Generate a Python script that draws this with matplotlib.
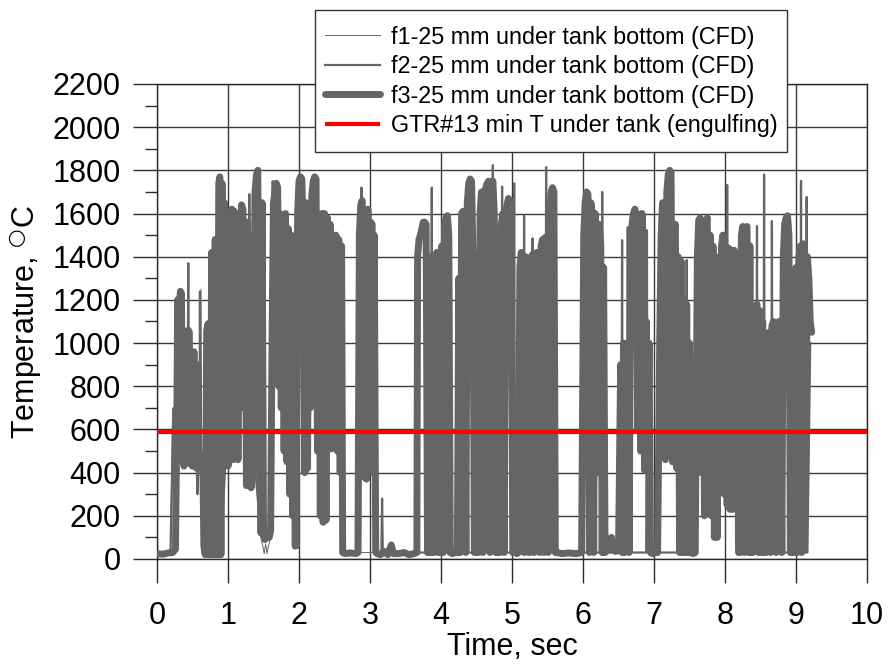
import matplotlib
matplotlib.use('Agg')
import matplotlib.pyplot as plt
from matplotlib.ticker import MultipleLocator
from matplotlib.patches import Rectangle

# ---------------- data ----------------
x_ticks = [0, 1, 2, 3, 4, 5, 6, 7, 8, 9, 10]
y_ticks = [0, 200, 400, 600, 800, 1000, 1200, 1400, 1600, 1800, 2000, 2200]

labels = ["f1-25 mm under tank bottom (CFD)",
          "f2-25 mm under tank bottom (CFD)",
          "f3-25 mm under tank bottom (CFD)",
          "GTR#13 min T under tank (engulfing)"]

gtr_min_T = 590
gtr_time = [0, 10]

# f3 (thick) : (time s, temperature C)
f3_pts = [
    (0.00, 25), (0.08, 22), (0.16, 28), (0.22, 30), (0.26, 45),
    (0.28, 650), (0.29, 1200), (0.31, 1150), (0.33, 1240), (0.345, 1230), (0.36, 460), (0.38, 430),
    (0.40, 450), (0.42, 1040), (0.44, 1060), (0.455, 1050), (0.47, 440), (0.49, 880), (0.50, 430),
    (0.52, 960), (0.54, 430), (0.56, 420), (0.575, 900), (0.59, 430), (0.61, 450), (0.63, 480), (0.645, 460),
    (0.66, 60), (0.68, 20), (0.70, 1060), (0.72, 1090), (0.735, 20), (0.75, 20), (0.77, 1420), (0.785, 500),
    (0.80, 20), (0.82, 1480), (0.835, 20), (0.85, 20), (0.87, 1740), (0.885, 1770), (0.90, 20), (0.915, 1740),
    (0.93, 700), (0.95, 1650), (0.965, 450), (0.98, 1600), (1.00, 430), (1.02, 1580), (1.04, 700),
    (1.055, 1620), (1.07, 460), (1.09, 1610), (1.105, 700), (1.12, 1550), (1.14, 460), (1.16, 1450),
    (1.175, 700), (1.19, 1640), (1.21, 1620), (1.225, 700), (1.24, 1500), (1.26, 340), (1.275, 1560),
    (1.29, 700), (1.31, 1500), (1.325, 330), (1.34, 1400), (1.36, 700), (1.38, 1700), (1.40, 1780),
    (1.42, 1800), (1.435, 400), (1.45, 1650), (1.465, 120), (1.48, 1650),
    (1.50, 150), (1.52, 90), (1.55, 110), (1.58, 100), (1.60, 130),
    (1.62, 1000), (1.64, 1650), (1.66, 1700), (1.68, 1740), (1.70, 1720), (1.715, 800), (1.73, 1600),
    (1.75, 700), (1.77, 1550), (1.79, 500), (1.81, 1600), (1.83, 450), (1.85, 1530), (1.87, 300),
    (1.89, 1500), (1.91, 200), (1.93, 1450), (1.945, 60), (1.96, 60),
    (1.98, 1600), (2.00, 1750), (2.02, 1770), (2.04, 1760), (2.06, 1500), (2.08, 400), (2.10, 1650),
    (2.12, 420), (2.14, 1600), (2.16, 700), (2.18, 1680), (2.20, 1750), (2.22, 1770), (2.24, 1760),
    (2.26, 500), (2.28, 1500), (2.30, 200), (2.32, 1600), (2.34, 170), (2.36, 1600), (2.38, 180),
    (2.40, 1580), (2.42, 600), (2.44, 1550), (2.46, 510), (2.48, 1500), (2.50, 520), (2.52, 1500),
    (2.54, 500), (2.56, 1480), (2.58, 400), (2.60, 1450), (2.615, 30),
    (2.65, 25), (2.72, 28), (2.80, 25), (2.83, 30),
    (2.85, 1500), (2.87, 1640), (2.89, 1660), (2.91, 380), (2.93, 1600), (2.95, 370), (2.97, 1620),
    (2.99, 600), (3.01, 1560), (3.03, 1550), (3.05, 400), (3.06, 1500), (3.08, 30),
    (3.10, 25), (3.15, 20), (3.20, 35), (3.25, 20), (3.30, 65), (3.33, 25), (3.40, 25), (3.48, 30),
    (3.55, 20), (3.62, 25), (3.66, 30),
    (3.67, 1400), (3.69, 1480), (3.71, 1500), (3.73, 1530), (3.75, 1560), (3.77, 1560), (3.79, 1550),
    (3.81, 30), (3.83, 1400), (3.85, 30), (3.87, 30), (3.90, 30), (3.92, 1400), (3.94, 1420), (3.96, 30),
    (3.99, 30), (4.01, 1450), (4.03, 30), (4.05, 1550), (4.07, 1580), (4.09, 1590), (4.11, 1500),
    (4.13, 30), (4.16, 25), (4.20, 30), (4.23, 30), (4.25, 1300), (4.27, 30), (4.29, 1600), (4.31, 1610),
    (4.33, 1500), (4.35, 30), (4.37, 1650), (4.39, 1740), (4.41, 1760), (4.43, 1750), (4.45, 1400),
    (4.47, 30), (4.49, 30), (4.51, 1300), (4.53, 30), (4.55, 1600), (4.57, 1700), (4.59, 30),
    (4.61, 1650), (4.63, 1720), (4.65, 1740), (4.67, 1750), (4.69, 30), (4.71, 1700), (4.73, 1750),
    (4.75, 1600), (4.77, 30), (4.79, 30), (4.81, 1500), (4.83, 30), (4.85, 1550), (4.87, 1600),
    (4.89, 30), (4.91, 1600), (4.93, 1640), (4.95, 1670), (4.97, 1660), (4.99, 1600), (5.01, 30),
    (5.04, 30), (5.07, 25), (5.09, 30), (5.11, 1350), (5.13, 1420), (5.15, 1410), (5.17, 30),
    (5.19, 1400), (5.21, 1380), (5.23, 30), (5.25, 30), (5.27, 1400), (5.29, 1410), (5.31, 30),
    (5.33, 1400), (5.35, 1420), (5.37, 1400), (5.39, 30), (5.41, 1450), (5.43, 1480), (5.45, 30),
    (5.47, 1490), (5.49, 1400), (5.51, 30), (5.53, 1600), (5.55, 1700), (5.57, 1720), (5.59, 1700),
    (5.61, 30), (5.63, 30),
    (5.70, 25), (5.80, 28), (5.90, 25), (5.98, 30),
    (6.01, 1500), (6.03, 1650), (6.05, 1700), (6.07, 1690), (6.09, 30), (6.11, 1650), (6.13, 1600),
    (6.15, 30), (6.17, 1600), (6.19, 1500), (6.21, 400), (6.23, 1550), (6.25, 1450), (6.27, 30),
    (6.29, 1350), (6.31, 30),
    (6.34, 40), (6.38, 45), (6.40, 100), (6.42, 40), (6.46, 35), (6.50, 40),
    (6.53, 900), (6.55, 30), (6.57, 1000), (6.59, 30), (6.61, 950), (6.63, 1000), (6.65, 30),
    (6.67, 1400), (6.69, 1550), (6.71, 1600), (6.73, 1620), (6.75, 1600), (6.77, 600), (6.79, 1550),
    (6.81, 500), (6.83, 1600), (6.85, 1400), (6.87, 410), (6.89, 1100), (6.91, 420), (6.93, 1000),
    (6.95, 30), (6.98, 25), (7.02, 30), (7.05, 30),
    (7.08, 1000), (7.10, 1500), (7.12, 1650), (7.14, 1640), (7.16, 460), (7.18, 1700), (7.20, 1780),
    (7.22, 1800), (7.24, 1790), (7.26, 450), (7.28, 1500), (7.30, 1550), (7.32, 420), (7.34, 1400),
    (7.36, 30), (7.38, 1380), (7.40, 30), (7.42, 1200), (7.44, 30), (7.46, 1180), (7.48, 30),
    (7.50, 1000), (7.52, 30),
    (7.55, 25), (7.58, 30),
    (7.61, 1400), (7.63, 1570), (7.65, 1580), (7.67, 400), (7.69, 1550), (7.71, 200), (7.73, 1560),
    (7.75, 1580), (7.77, 300), (7.79, 1500), (7.81, 200), (7.83, 1450), (7.85, 100), (7.87, 1400),
    (7.89, 100), (7.91, 1300), (7.93, 400), (7.95, 1450), (7.97, 1500), (7.99, 300), (8.01, 1450),
    (8.03, 250), (8.05, 1440), (8.07, 230), (8.09, 1430), (8.11, 230), (8.13, 1430), (8.15, 300),
    (8.17, 1400), (8.19, 30),
    (8.21, 30), (8.23, 1500), (8.25, 1540), (8.27, 30), (8.29, 1530), (8.31, 1540), (8.33, 30),
    (8.35, 1450), (8.37, 30), (8.39, 30), (8.41, 1100), (8.43, 1170), (8.45, 1180), (8.47, 30),
    (8.49, 1150), (8.51, 30), (8.53, 1100), (8.55, 30), (8.58, 30), (8.60, 1000), (8.62, 1050),
    (8.64, 30), (8.66, 1080), (8.68, 1100), (8.70, 1090), (8.72, 30), (8.74, 1050), (8.76, 1100),
    (8.78, 1000), (8.80, 30), (8.82, 1400), (8.84, 1550), (8.86, 1580), (8.88, 1590), (8.90, 1500),
    (8.92, 30), (8.94, 30), (8.96, 1300), (8.98, 30), (9.00, 1350), (9.02, 30), (9.04, 1400),
    (9.06, 1450), (9.08, 30), (9.10, 1460), (9.12, 1450), (9.14, 600), (9.16, 1400), (9.18, 1300),
    (9.20, 1100), (9.22, 1050),
]

# f2 (medium) : spikes that poke out of the thick trace
f2_pts = [
    (0.00, 25), (0.19, 30), (0.23, 690), (0.27, 700), (0.30, 700), (0.43, 460), (0.44, 1370),
    (0.45, 460), (0.56, 430), (0.57, 300), (0.58, 430), (0.60, 450), (0.605, 1240), (0.61, 450),
    (0.66, 30), (0.90, 30), (1.00, 700), (1.29, 700), (1.30, 1690), (1.31, 700), (1.46, 120),
    (1.62, 120), (1.63, 1750), (1.64, 900), (2.58, 900), (2.615, 30), (2.86, 30), (2.875, 1000),
    (2.88, 1720), (2.885, 1000), (3.07, 1000), (3.08, 30), (3.16, 30), (3.17, 280), (3.18, 30),
    (3.86, 30), (3.87, 1720), (3.88, 30), (4.72, 30), (4.73, 1824), (4.74, 30), (4.85, 30),
    (4.86, 1725), (4.87, 30), (5.02, 30), (5.03, 1740), (5.04, 30), (5.16, 30), (5.17, 1590),
    (5.18, 30), (5.28, 30), (5.29, 1485), (5.30, 30), (5.47, 30), (5.48, 1815), (5.49, 30),
    (6.26, 30), (6.27, 1700), (6.28, 30), (6.54, 30), (6.55, 1477), (6.56, 30), (6.62, 30),
    (6.63, 1537), (6.64, 30), (6.89, 30), (6.90, 1523), (6.91, 30), (7.45, 30), (7.46, 1385),
    (7.47, 30), (7.60, 30), (7.62, 500), (8.02, 500), (8.03, 1732), (8.04, 500), (8.18, 500),
    (8.19, 30), (8.44, 30), (8.45, 1542), (8.46, 30), (8.54, 30), (8.55, 1780), (8.56, 30),
    (8.65, 30), (8.66, 1565), (8.67, 30), (9.06, 30), (9.07, 1751), (9.08, 30), (9.14, 30),
    (9.15, 1677), (9.16, 30), (9.20, 1000),
]

# f1 (thin)
f1_pts = [
    (0.00, 25), (0.19, 30), (0.22, 700), (0.27, 700), (0.29, 700), (0.36, 460), (0.60, 450),
    (0.62, 1250), (0.63, 450), (0.655, 30), (0.90, 30), (0.95, 700), (1.44, 700), (1.46, 100),
    (1.49, 60), (1.51, 25), (1.53, 70), (1.55, 25), (1.57, 60), (1.60, 100), (1.62, 900),
    (2.60, 900), (2.615, 30), (3.66, 30), (3.70, 800), (3.79, 800), (3.81, 30), (4.54, 30),
    (4.56, 800), (4.75, 800), (4.77, 30), (7.60, 30), (7.62, 600), (8.18, 600), (8.19, 30),
    (9.00, 30), (9.20, 1000),
]

f1_t = [p[0] for p in f1_pts]
f1_T = [p[1] for p in f1_pts]
f2_t = [p[0] for p in f2_pts]
f2_T = [p[1] for p in f2_pts]
f3_t = [p[0] for p in f3_pts]
f3_T = [p[1] for p in f3_pts]

# ---------------- plotting ----------------
plt.rcParams['font.family'] = ['Liberation Sans', 'DejaVu Sans']

fig = plt.figure(figsize=(8.88, 6.65), dpi=100)
ax = fig.add_axes([0.1768, 0.1594, 0.7996, 0.7143])

gray = '#656565'
l1, = ax.plot(f1_t, f1_T, color=gray, lw=0.7, zorder=3, label=labels[0])
l2, = ax.plot(f2_t, f2_T, color=gray, lw=1.6, zorder=3, label=labels[1])
l3, = ax.plot(f3_t, f3_T, color=gray, lw=5.0, zorder=4, solid_joinstyle='round',
              solid_capstyle='round', label=labels[2])
l4, = ax.plot(gtr_time, [gtr_min_T, gtr_min_T], color='#ff0000', lw=3.0, zorder=5,
              label=labels[3], solid_capstyle='butt')

ax.set_xlim(0, 10)
ax.set_ylim(0, 2200)
ax.set_xticks(x_ticks)
ax.set_yticks(y_ticks)
ax.yaxis.set_minor_locator(MultipleLocator(100))

ax.grid(True, which='major', color='#3a3a3a', lw=1.0, zorder=1)
ax.set_axisbelow(True)
for s in ax.spines.values():
    s.set_color('#2a2a2a')
    s.set_linewidth(1.0)

ax.tick_params(axis='both', which='major', direction='out', length=17, width=1.0,
               color='#2a2a2a', labelsize=22)
ax.tick_params(axis='y', which='minor', direction='out', length=8.5, width=1.0, color='#2a2a2a')
ax.tick_params(axis='x', which='major', pad=13.3)
ax.tick_params(axis='y', which='major', pad=9)

ax.set_xlabel('Time, sec', fontsize=22, labelpad=1)
ax.set_ylabel(r'Temperature, $^{\bigcirc}$C', fontsize=22, labelpad=6)

# legend frame (drawn separately so the vertical padding matches the reference)
frame = Rectangle((0.3547, 0.7714), 0.5315, 0.2135, transform=fig.transFigure,
                  facecolor='white', edgecolor='#333333', lw=1.0, zorder=10)
fig.patches.append(frame)

leg = fig.legend(handles=[l1, l2, l3, l4], loc='upper left', bbox_to_anchor=(0.3547, 0.9774),
                 bbox_transform=fig.transFigure, fontsize=16.8, frameon=False,
                 borderpad=0.45, labelspacing=0.28, handlelength=2.35, handletextpad=0.45,
                 borderaxespad=0)
leg.set_zorder(11)

fig.savefig('out.png', dpi=100)
